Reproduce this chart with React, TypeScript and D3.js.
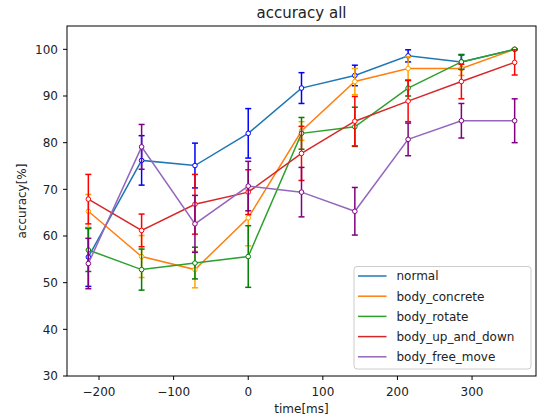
import React from 'react';
import * as d3 from 'd3';

// time points (ms)
const times = [-214.3, -142.9, -71.4, 0, 71.4, 142.9, 214.3, 285.7, 357.1];

const seriesNames = ['normal', 'body_concrete', 'body_rotate', 'body_up_and_down', 'body_free_move'];
const lineColors = ['#1f77b4', '#ff7f0e', '#2ca02c', '#d62728', '#9467bd'];
const errColors = ['blue', 'orange', 'green', 'red', 'purple'];

const normalAcc = [55.5, 76.2, 75.1, 82.0, 91.7, 94.4, 98.6, 97.3, 100.0];
const normalErr = [6.3, 5.3, 4.8, 5.3, 3.3, 2.2, 1.3, 1.5, 0];
const concreteAcc = [65.3, 55.6, 52.8, 63.9, 82.5, 93.1, 95.9, 95.9, 100.0];
const concreteErr = [3.6, 4.5, 3.9, 6.0, 2.0, 2.8, 2.5, 1.5, 0];
const rotateAcc = [57.0, 52.8, 54.2, 55.6, 82.0, 83.4, 91.7, 97.3, 100.0];
const rotateErr = [4.6, 4.4, 3.4, 6.6, 3.4, 4.2, 1.7, 1.6, 0];
const upDownAcc = [67.9, 61.2, 66.8, 69.4, 77.7, 84.6, 88.9, 93.1, 97.2];
const upDownErr = [5.3, 3.5, 6.4, 4.8, 5.8, 5.3, 4.4, 3.7, 2.7];
const freeMoveAcc = [54.1, 79.1, 62.6, 70.7, 69.4, 65.3, 80.7, 84.7, 84.7];
const freeMoveErr = [5.4, 4.8, 6.1, 5.3, 5.3, 5.1, 3.5, 3.7, 4.7];

const xTicks = [-200, -100, 0, 100, 200, 300];
const yTicks = [30, 40, 50, 60, 70, 80, 90, 100];

const allAcc = [normalAcc, concreteAcc, rotateAcc, upDownAcc, freeMoveAcc];
const allErr = [normalErr, concreteErr, rotateErr, upDownErr, freeMoveErr];

const W = 537, H = 419;
const left = 67, right = 536, top = 26, bottom = 376;
const font = 'DejaVu Sans, sans-serif';

export default function App() {
  const x = d3.scaleLinear().domain([-242.9, 385.7]).range([left, right]);
  const y = d3.scaleLinear().domain([30, 105]).range([bottom, top]);

  const line = d3.line<number>()
    .x((_, i) => x(times[i]))
    .y((d) => y(d));

  const cap = 3;

  return (
    <svg width={W} height={H} style={{ position: 'absolute', left: 0, top: 0, background: 'white' }}>
      <rect x={0} y={0} width={W} height={H} fill="white" />

      {/* series */}
      {allAcc.map((acc, s) => (
        <g key={'s' + s}>
          {acc.map((v, i) => {
            const e = allErr[s][i];
            const cx = x(times[i]);
            return (
              <g key={i} stroke={errColors[s]} strokeWidth={1.5}>
                <line x1={cx} x2={cx} y1={y(v - e)} y2={y(v + e)} />
                <line x1={cx - cap} x2={cx + cap} y1={y(v - e)} y2={y(v - e)} />
                <line x1={cx - cap} x2={cx + cap} y1={y(v + e)} y2={y(v + e)} />
              </g>
            );
          })}
          <path d={line(acc) || ''} fill="none" stroke={lineColors[s]} strokeWidth={1.5} />
          {acc.map((v, i) => (
            <circle key={'m' + i} cx={x(times[i])} cy={y(v)} r={2.3}
              fill="white" stroke={errColors[s]} strokeWidth={1} />
          ))}
        </g>
      ))}

      {/* axes frame */}
      <rect x={left} y={top} width={right - left} height={bottom - top} fill="none" stroke="black" strokeWidth={1} />

      {/* x ticks */}
      {xTicks.map((t) => (
        <g key={'xt' + t}>
          <line x1={x(t)} x2={x(t)} y1={bottom} y2={bottom + 4} stroke="black" />
          <text x={x(t)} y={396} textAnchor="middle" fontFamily={font} fontSize={12} fill="#222">
            {t < 0 ? '\u2212' + Math.abs(t) : t}
          </text>
        </g>
      ))}

      {/* y ticks */}
      {yTicks.map((t) => (
        <g key={'yt' + t}>
          <line x1={left - 4} x2={left} y1={y(t)} y2={y(t)} stroke="black" />
          <text x={58} y={y(t) + 4.3} textAnchor="end" fontFamily={font} fontSize={12} fill="#222">{t}</text>
        </g>
      ))}

      {/* labels */}
      <text x={(left + right) / 2} y={18} textAnchor="middle" fontFamily={font} fontSize={15} fill="#222">accuracy all</text>
      <text x={(left + right) / 2} y={413} textAnchor="middle" fontFamily={font} fontSize={12} fill="#222">time[ms]</text>
      <text transform={`translate(26, ${(top + bottom) / 2}) rotate(-90)`} textAnchor="middle" fontFamily={font} fontSize={12} fill="#222">accuracy[%]</text>

      {/* legend */}
      <rect x={354} y={266.5} width={177} height={102.5} rx={3} fill="white" fillOpacity={0.8} stroke="#cccccc" strokeWidth={1} />
      {seriesNames.map((n, i) => {
        const ly = 276 + i * 20.2;
        return (
          <g key={n}>
            <line x1={358} x2={386.5} y1={ly} y2={ly} stroke={lineColors[i]} strokeWidth={1.5} />
            <text x={396.5} y={ly + 4.3} fontFamily={font} fontSize={12} fill="#222">{n}</text>
          </g>
        );
      })}
    </svg>
  );
}
